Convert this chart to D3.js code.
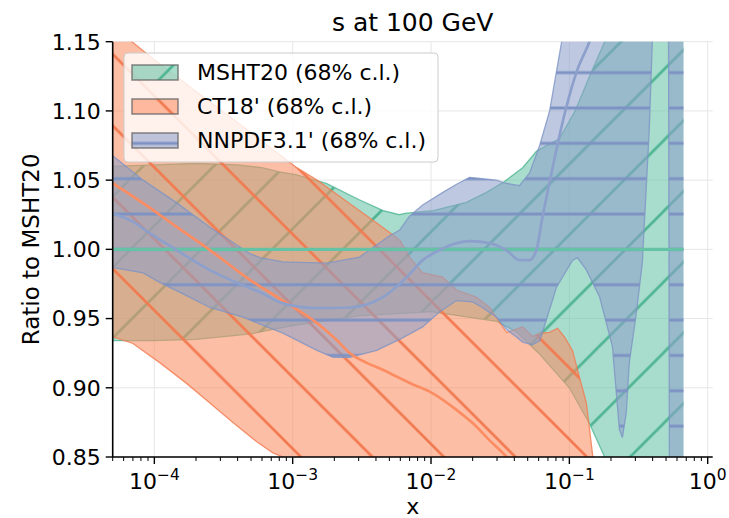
<!DOCTYPE html>
<html><head><meta charset="utf-8">
<script src="https://cdn.jsdelivr.net/npm/d3@7"></script>
<style>body{margin:0;background:#fff}svg{display:block}text{font-family:"DejaVu Sans",sans-serif;fill:#000}</style>
</head><body><svg id="c" width="729" height="518"></svg>
<script>
// ---------------- data ----------------
const title = "s at 100 GeV";
const yLabel = "Ratio to MSHT20";
const xLabel = "x";
const seriesNames = ["MSHT20 (68% c.l.)", "CT18' (68% c.l.)", "NNPDF3.1' (68% c.l.)"];
const yTicks = [0.85, 0.90, 0.95, 1.00, 1.05, 1.10, 1.15];
const xTickExps = [-4, -3, -2, -1, 0];

// MSHT20
const mshtCX = [5e-5, 0.668];
const mshtC  = [1.0, 1.0];
const mshtUpX = [4.95e-5,1e-4,2e-4,4e-4,6e-4,8e-4,1.05e-3,1.75e-3,3e-3,4.5e-3,5.9e-3,6.5e-3,8.25e-3,1.04e-2,1.8e-2,2.5e-2,3.4e-2,4.6e-2,5.8e-2,8.5e-2,0.11,0.14,0.18,0.23,0.668];
const mshtUp  = [1.06,1.061,1.062,1.061,1.059,1.056,1.054,1.0476,1.036,1.028,1.025,1.026,1.027,1.028,1.034,1.041,1.049,1.059,1.071,1.08,1.10,1.125,1.15,1.18,1.3];
const mshtLoX = [4.95e-5,1e-4,2e-4,5e-4,1e-3,3e-3,1e-2,3e-2,4.2e-2,6e-2,0.1,0.14,0.18,0.3,0.668];
const mshtLo  = [0.934,0.934,0.935,0.939,0.945,0.952,0.955,0.948,0.94,0.925,0.9,0.874,0.85,0.8,0.75];

// CT18'
const ct18CX = [4.95e-5,8.29e-5,1.46e-4,2.52e-4,4.91e-4,8.49e-4,1.5e-3,2.08e-3,2.59e-3,3.43e-3,4.48e-3,5.94e-3,7.02e-3,1.03e-2,1.53e-2,2.0e-2,2.65e-2,3.52e-2,5e-2,0.1,0.2];
const ct18C  = [1.048,1.0334,1.016,0.9995,0.978,0.963,0.9467,0.9345,0.925,0.918,0.913,0.907,0.9035,0.896,0.884,0.8745,0.862,0.85,0.83,0.78,0.7];
const ct18UpX = [4.95e-5,6.5e-5,1e-4,2e-4,4.2e-4,6.8e-4,1.07e-3,1.5e-3,2.59e-3,3.8e-3,5.05e-3,5.94e-3,7.02e-3,8.7e-3,1.21e-2,1.53e-2,2.12e-2,2.65e-2,3.52e-2,4.59e-2,5.42e-2,6.1e-2,7.2e-2,8.22e-2,9.23e-2,0.1053,0.118,0.1328,0.1467,0.158,0.2];
const ct18Up  = [1.165,1.152,1.137,1.114,1.09,1.074,1.059,1.05,1.033,1.021,1.012,1.0067,0.994,0.983,0.98,0.9706,0.9656,0.958,0.94,0.944,0.937,0.9395,0.94,0.943,0.9366,0.927,0.908,0.889,0.853,0.83,0.78];
const ct18LoX = [4.95e-5,7e-5,1.1e-4,1.72e-4,2.52e-4,3.7e-4,5.5e-4,7.2e-4,9e-4,1.3e-3,1e-2,0.2];
const ct18Lo  = [0.937,0.932,0.918,0.903,0.889,0.875,0.861,0.853,0.849,0.83,0.75,0.7];

// NNPDF3.1'
const nnCX = [4.95e-5,7e-5,9.3e-5,1.45e-4,2.52e-4,4.38e-4,5.8e-4,8.5e-4,1.5e-3,2.59e-3,4.48e-3,5.05e-3,6.68e-3,8.71e-3,1.155e-2,1.533e-2,1.9e-2,2.65e-2,3.51e-2,4.36e-2,5.15e-2,5.78e-2,6.39e-2,7.18e-2,8.06e-2,9.36e-2,0.1144,0.1397,0.1948];
const nnC  = [1.026,1.020,1.0115,0.9995,0.985,0.974,0.969,0.961,0.9576,0.958,0.9655,0.969,0.980,0.9922,0.9995,1.0045,1.006,1.0045,0.9995,0.9922,0.9922,0.9995,1.0233,1.048,1.072,1.10,1.13,1.15,1.2];
const nnUpX = [4.95e-5,8.3e-5,1.46e-4,2.52e-4,4.9e-4,5.8e-4,8.5e-4,1.76e-3,3.04e-3,5.05e-3,5.94e-3,7.0e-3,8.7e-3,1.21e-2,1.53e-2,1.9e-2,2.35e-2,2.97e-2,3.38e-2,4.35e-2,5.15e-2,6.1e-2,7.2e-2,8.8e-2,0.11,0.668];
const nnUp  = [1.068,1.05,1.0334,1.016,0.997,0.994,0.991,0.99,0.9944,1.010,1.014,1.024,1.032,1.041,1.047,1.052,1.051,1.05,1.048,1.046,1.055,1.075,1.10,1.15,1.2,1.3];
const nnLoX = [4.95e-5,8.3e-5,1.1e-4,1.6e-4,2.52e-4,4.38e-4,5.8e-4,8.5e-4,1.5e-3,1.96e-3,2.59e-3,4.04e-3,5.94e-3,8.7e-3,1.155e-2,1.53e-2,2.0e-2,2.35e-2,2.97e-2,3.52e-2,4.1e-2,4.6e-2,5.4e-2,6.1e-2,6.62e-2,8.08e-2,0.1053,0.1144,0.1329,0.165,0.2047,0.23,0.2417,0.258,0.271,0.305,0.3366,0.378,0.3974,0.411,0.52,0.53,0.668];
const nnLo  = [0.987,0.983,0.976,0.968,0.958,0.951,0.946,0.9395,0.927,0.922,0.922,0.927,0.935,0.944,0.955,0.963,0.962,0.958,0.951,0.942,0.937,0.933,0.931,0.934,0.945,0.9727,0.992,0.994,0.985,0.966,0.93,0.87,0.864,0.882,0.918,0.954,0.99,1.086,1.149,1.2,1.2,0.8,0.8];

const colors = ["#66c2a5", "#fc8d62", "#8da0cb"];
const hatchColors = ["#4fb592", "#f27a50", "#7e93c4"];

// ---------------- layout ----------------
const L = 112.7, R = 712.7, T = 41.7, B = 457;
const x = d3.scaleLog().domain([5e-5, 1.087]).range([L, R]);
const y = d3.scaleLinear().domain([0.85, 1.15]).range([B, T]);
const svg = d3.select("#c");
const defs = svg.append("defs");

defs.append("clipPath").attr("id","plotclip").append("rect")
  .attr("x",L).attr("y",T).attr("width",R-L).attr("height",B-T);

// hatch patterns (global grid, user space)
const PG = 70.7, PO = 71.5, PB = 35.35;
const pg = defs.append("pattern").attr("id","hG").attr("patternUnits","userSpaceOnUse")
  .attr("width",PG).attr("height",PG).attr("patternTransform","translate(26.5,0)");
pg.append("path").attr("d",`M0,${PG}L${PG},0M${-PG/2},${PG/2}L${PG/2},${-PG/2}M${PG/2},${PG*1.5}L${PG*1.5},${PG/2}`)
  .attr("stroke",hatchColors[0]).attr("stroke-width",2.7);
const po = defs.append("pattern").attr("id","hO").attr("patternUnits","userSpaceOnUse")
  .attr("width",PO).attr("height",PO).attr("patternTransform","translate(0,13)");
po.append("path").attr("d",`M0,0L${PO},${PO}M${-PO/2},${PO/2}L${PO/2},${PO*1.5}M${PO/2},${-PO/2}L${PO*1.5},${PO/2}`)
  .attr("stroke",hatchColors[1]).attr("stroke-width",2.7);
const pb = defs.append("pattern").attr("id","hB").attr("patternUnits","userSpaceOnUse")
  .attr("width",20).attr("height",PB).attr("patternTransform","translate(0,1.95)");
pb.append("path").attr("d",`M-1,0H21M-1,${PB}H21`)
  .attr("stroke",hatchColors[2]).attr("stroke-width",2.8);
const hatchIds = ["hG","hO","hB"];

// grid
const grid = svg.append("g");
yTicks.forEach(v => grid.append("line").attr("x1",L).attr("x2",R).attr("y1",y(v)).attr("y2",y(v))
  .attr("stroke","#e6e6e6").attr("stroke-width",1));
xTickExps.forEach(e => grid.append("line").attr("x1",x(Math.pow(10,e))).attr("x2",x(Math.pow(10,e)))
  .attr("y1",T).attr("y2",B).attr("stroke","#e6e6e6").attr("stroke-width",1));

// bands
const pts = (xs, ys) => xs.map((v,i)=>[x(v), y(ys[i])]);
const lin = d3.line();
function bandPath(upX, up, loX, lo){
  const u = pts(upX, up), l = pts(loX, lo).reverse();
  return lin(u.concat(l)) + "Z";
}
const plot = svg.append("g").attr("clip-path","url(#plotclip)");
const bands = [
  [mshtUpX, mshtUp, mshtLoX, mshtLo],
  [ct18UpX, ct18Up, ct18LoX, ct18Lo],
  [nnUpX, nnUp, nnLoX, nnLo]
];
bands.forEach((b,i)=>{
  const d = bandPath(...b);
  plot.append("path").attr("d",d).attr("fill",colors[i]).attr("fill-opacity",0.57);
  plot.append("path").attr("d",d).attr("fill",`url(#${hatchIds[i]})`);
  plot.append("path").attr("d",lin(pts(b[0],b[1]))).attr("fill","none").attr("stroke",hatchColors[i]).attr("stroke-width",1.3).attr("stroke-opacity",0.8);
  plot.append("path").attr("d",lin(pts(b[2],b[3]))).attr("fill","none").attr("stroke",hatchColors[i]).attr("stroke-width",1.3).attr("stroke-opacity",0.8);
});
// central lines
const curve = d3.line().curve(d3.curveMonotoneX);
[[mshtCX,mshtC],[ct18CX,ct18C],[nnCX,nnC]].forEach((c,i)=>{
  plot.append("path").attr("d",curve(pts(c[0],c[1]))).attr("fill","none")
    .attr("stroke",colors[i]).attr("stroke-width",i===0?3.2:2.7);
});

// axes
const ax = svg.append("g");
ax.append("line").attr("x1",L).attr("x2",L).attr("y1",T).attr("y2",B).attr("stroke","#000").attr("stroke-width",1.6);
ax.append("line").attr("x1",L).attr("x2",R).attr("y1",B).attr("y2",B).attr("stroke","#000").attr("stroke-width",1.6);
yTicks.forEach(v=>{
  ax.append("line").attr("x1",L-7).attr("x2",L).attr("y1",y(v)).attr("y2",y(v)).attr("stroke","#000").attr("stroke-width",1.4);
  ax.append("text").attr("x",L-12).attr("y",y(v)).attr("dy","0.36em").attr("text-anchor","end")
    .attr("font-size",22).text(v.toFixed(2));
});
xTickExps.forEach(e=>{
  const px = x(Math.pow(10,e));
  ax.append("line").attr("x1",px).attr("x2",px).attr("y1",B).attr("y2",B+7).attr("stroke","#000").attr("stroke-width",1.4);
  const t = ax.append("text").attr("x",px).attr("y",B+32).attr("text-anchor","middle").attr("font-size",22);
  t.append("tspan").text("10");
  t.append("tspan").attr("dy",-9).attr("font-size",15.5).text(e<0 ? "\u2212"+Math.abs(e) : String(e));
});
// minor ticks
for (let e=-5; e<=0; e++){
  for (let m=2; m<=9; m++){
    const v = m*Math.pow(10,e);
    if (v < 5e-5 || v > 1.087) continue;
    const px = x(v);
    ax.append("line").attr("x1",px).attr("x2",px).attr("y1",B).attr("y2",B+4).attr("stroke","#000").attr("stroke-width",1);
  }
}
// labels
svg.append("text").attr("x",(L+R)/2).attr("y",31).attr("text-anchor","middle").attr("font-size",25).text(title);
svg.append("text").attr("x",(L+R)/2).attr("y",514).attr("text-anchor","middle").attr("font-size",22).text(xLabel);
svg.append("text").attr("transform",`translate(39,${(T+B)/2}) rotate(-90)`).attr("text-anchor","middle").attr("font-size",23).text(yLabel);

// legend
const lg = svg.append("g");
lg.append("rect").attr("x",124).attr("y",53).attr("width",314).attr("height",109).attr("rx",4)
  .attr("fill","#fff").attr("fill-opacity",0.8).attr("stroke","#cccccc").attr("stroke-width",1);
const rows = [72.5, 106.5, 140.5];
seriesNames.forEach((n,i)=>{
  const ry = rows[i];
  lg.append("rect").attr("x",132).attr("y",ry-7.5).attr("width",46).attr("height",15)
    .attr("fill",colors[i]).attr("fill-opacity",0.57);
  lg.append("rect").attr("x",132).attr("y",ry-7.5).attr("width",46).attr("height",15)
    .attr("fill",`url(#${hatchIds[i]})`).attr("stroke","#666").attr("stroke-opacity",0.8).attr("stroke-width",1.5);
  lg.append("text").attr("x",197).attr("y",ry).attr("dy","0.36em").attr("font-size",22).text(n);
});
</script></body></html>
